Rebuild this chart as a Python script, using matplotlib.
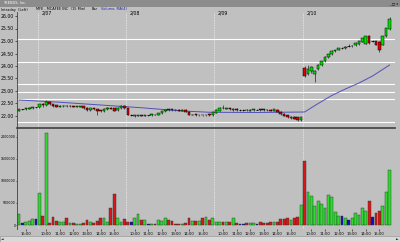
import matplotlib
matplotlib.use("Agg")
import matplotlib.pyplot as plt
from matplotlib.patches import Rectangle

# MFE - MCAFEE INC, 15 min bars: tail of the previous session + 4 sessions
dates = ["2/07", "2/08", "2/09", "2/10"]
day_starts = [6, 32, 58, 84]
hour_labels = ["10:00", "11:00", "12:00", "13:00", "14:00", "15:00"]

opens = [
    22.22, 22.26, 22.26, 22.28, 22.30, 22.34,
    22.34, 22.46, 22.42, 22.54, 22.46, 22.42, 22.36, 22.39, 22.41, 22.39,
    22.40, 22.38, 22.38, 22.38, 22.32, 22.24, 22.30, 22.26, 22.22, 22.18,
    22.26, 22.32, 22.30, 22.24, 22.30, 22.38,
    22.30, 22.04, 21.98, 22.00, 22.04, 22.00, 22.02, 22.02, 22.06, 22.04,
    22.10, 22.18, 22.26, 22.26, 22.25, 22.24, 22.22, 22.24, 22.16, 22.04,
    22.06, 22.02, 22.04, 22.02, 22.06, 22.02,
    22.12, 22.22, 22.32, 22.28, 22.30, 22.24, 22.28, 22.24, 22.24, 22.25,
    22.22, 22.23, 22.25, 22.27, 22.26, 22.25, 22.24, 22.22, 22.24, 22.16,
    22.08, 22.02, 21.92, 21.96, 21.94, 21.82,
    23.92, 23.68, 23.79, 23.66, 23.90, 24.05, 24.22, 24.36, 24.46, 24.60,
    24.64, 24.72, 24.72, 24.78, 24.78, 24.83, 24.88, 24.96, 24.90, 25.19,
    24.98, 24.99, 24.95, 24.86, 25.19, 25.48,
]
closes = [
    22.26, 22.26, 22.30, 22.32, 22.34, 22.34,
    22.46, 22.42, 22.56, 22.46, 22.40, 22.36, 22.40, 22.41, 22.39, 22.40,
    22.38, 22.39, 22.40, 22.30, 22.24, 22.30, 22.26, 22.20, 22.18, 22.28,
    22.32, 22.28, 22.22, 22.32, 22.40, 22.30,
    22.06, 22.04, 22.02, 22.04, 22.00, 22.04, 22.02, 22.06, 22.04, 22.10,
    22.18, 22.24, 22.24, 22.24, 22.23, 22.22, 22.24, 22.16, 22.06, 22.06,
    22.02, 22.04, 22.02, 22.04, 22.02, 22.14,
    22.24, 22.32, 22.30, 22.30, 22.26, 22.28, 22.24, 22.24, 22.24, 22.23,
    22.24, 22.26, 22.25, 22.24, 22.24, 22.23, 22.22, 22.26, 22.16, 22.08,
    22.00, 21.94, 21.96, 21.88, 21.82, 21.94,
    23.60, 23.88, 23.95, 23.78, 24.05, 24.19, 24.36, 24.48, 24.60, 24.64,
    24.72, 24.72, 24.76, 24.78, 24.81, 24.92, 24.99, 25.10, 25.19, 24.92,
    24.98, 24.85, 24.65, 25.19, 25.50, 25.86,
]
highs = [
    22.28, 22.28, 22.32, 22.34, 22.36, 22.36,
    22.48, 22.50, 22.62, 22.56, 22.48, 22.44, 22.42, 22.43, 22.42, 22.42,
    22.41, 22.41, 22.41, 22.40, 22.34, 22.32, 22.32, 22.28, 22.24, 22.30,
    22.34, 22.34, 22.32, 22.34, 22.42, 22.42,
    22.32, 22.08, 22.04, 22.06, 22.06, 22.06, 22.04, 22.08, 22.08, 22.12,
    22.20, 22.26, 22.28, 22.27, 22.27, 22.26, 22.26, 22.26, 22.18, 22.08,
    22.08, 22.06, 22.06, 22.06, 22.08, 22.16,
    22.26, 22.34, 22.44, 22.32, 22.32, 22.30, 22.30, 22.26, 22.26, 22.27,
    22.26, 22.28, 22.27, 22.29, 22.28, 22.27, 22.26, 22.28, 22.26, 22.18,
    22.10, 22.04, 21.98, 21.98, 21.96, 21.96,
    24.00, 24.04, 23.98, 23.84, 24.08, 24.22, 24.40, 24.50, 24.62, 24.66,
    24.74, 24.76, 24.80, 24.88, 24.83, 24.94, 25.02, 25.12, 25.22, 25.24,
    25.06, 25.02, 24.98, 25.22, 25.54, 25.94,
]
lows = [
    22.20, 22.24, 22.24, 22.26, 22.28, 22.32,
    22.32, 22.38, 22.40, 22.44, 22.38, 22.34, 22.34, 22.38, 22.37, 22.38,
    22.36, 22.37, 22.37, 22.28, 22.22, 22.22, 22.24, 22.06, 22.14, 22.16,
    22.24, 22.26, 22.20, 22.22, 22.28, 22.28,
    22.04, 21.98, 21.96, 21.98, 21.98, 21.98, 22.00, 22.00, 22.02, 22.02,
    22.08, 22.16, 22.22, 22.22, 22.21, 22.20, 22.20, 22.14, 22.04, 22.02,
    22.00, 22.00, 22.00, 22.00, 22.00, 22.00,
    22.10, 22.20, 22.28, 22.26, 22.24, 22.22, 22.22, 22.22, 22.22, 22.21,
    22.20, 22.21, 22.23, 22.22, 22.22, 22.21, 22.20, 22.20, 22.14, 22.06,
    21.98, 21.92, 21.90, 21.86, 21.78, 21.80,
    23.56, 23.64, 23.72, 23.36, 23.86, 24.02, 24.18, 24.34, 24.44, 24.58,
    24.62, 24.70, 24.70, 24.76, 24.76, 24.80, 24.86, 24.94, 24.88, 24.90,
    24.96, 24.82, 24.58, 24.84, 25.16, 25.44,
]
volumes = [
    250000, 45000, 70000, 100000, 140000, 140000,
    730000, 200000, 2090000, 45000, 180000, 90000, 70000, 70000, 160000, 40000,
    50000, 30000, 30000, 40000, 110000, 70000, 50000, 90000, 160000, 160000,
    70000, 380000, 700000, 160000, 70000, 140000,
    70000, 70000, 160000, 250000, 110000, 110000, 30000, 30000, 30000, 110000,
    100000, 160000, 110000, 100000, 30000, 30000, 30000, 50000, 160000, 90000,
    90000, 90000, 160000, 180000, 120000, 150000,
    70000, 70000, 70000, 70000, 70000, 160000, 40000, 30000, 30000, 40000,
    40000, 50000, 30000, 70000, 50000, 50000, 60000, 70000, 70000, 130000,
    140000, 160000, 110000, 160000, 180000, 450000,
    1450000, 750000, 660000, 430000, 545000, 480000, 390000, 680000, 640000, 300000,
    200000, 200000, 160000, 110000, 150000, 270000, 230000, 380000, 320000, 540000,
    180000, 270000, 320000, 430000, 750000, 1250000,
]

# moving average line, read at a few bars
ma_bars = [0, 12, 24, 36, 48, 56, 70, 84, 88, 92, 96, 100, 104, 109]
ma_values = [22.64, 22.55, 22.44, 22.33, 22.20, 22.15, 22.14, 22.16,
             22.50, 22.82, 23.08, 23.32, 23.60, 24.04]

# horizontal level lines drawn on the price pane
level_lines = [25.08, 24.16, 23.28, 22.96, 22.68, 21.76]

price_ticks = [22.0, 22.5, 23.0, 23.5, 24.0, 24.5, 25.0, 25.5, 26.0]
volume_ticks = [0, 500000, 1000000, 1500000, 2000000]

BG = "#c0c0c0"
UP = "#00e000"
DOWN = "#e00000"
FS = 3.3
HFS = 2.5


def px(x, y):
    # pixel position of the 400x242 screenshot -> figure fraction
    return x / 400, 1 - y / 242


fig = plt.figure(figsize=(4.0, 2.42), dpi=100, facecolor=BG)

# window title strip + chart header
fig.patches.append(Rectangle((0, 1 - 7 / 242), 1, 7 / 242, transform=fig.transFigure,
                             facecolor="#8c8c8c", edgecolor="none"))
fig.text(*px(3, 3.5), "TRENDS, Inc.", fontsize=HFS, color="white", va="center")
fig.text(*px(398, 3.5), "_ \u25a1 x", fontsize=HFS, color="black", va="center", ha="right")
fig.text(*px(1, 9.5), "Intraday  (Left)", fontsize=HFS, va="center")
fig.text(*px(36, 9.5), "MFE - MCAFEE INC  (15 Min)", fontsize=HFS, va="center")
fig.text(*px(92, 9.5), "Bar", fontsize=HFS, va="center")
fig.text(*px(101, 9.5), "Volume, MA(4)", fontsize=HFS, va="center", color="#2020c0")

# scroll bar at the bottom
fig.patches.append(Rectangle((0, 0), 1, 6 / 242, transform=fig.transFigure,
                             facecolor="#d8d8d8", edgecolor="#909090", linewidth=0.4))
fig.text(*px(1, 239), "\u25c4", fontsize=2.4, va="center")
fig.text(*px(399, 239), "\u25ba", fontsize=2.4, va="center", ha="right")

left, width = 17 / 400, 378 / 400
ax_p = fig.add_axes([left, 1 - 127 / 242, width, 115 / 242], facecolor=BG)
ax_v = fig.add_axes([left, 1 - 229 / 242, width, 101 / 242], facecolor=BG, sharex=ax_p)

n = len(closes)
xs = list(range(n))

for lvl in level_lines:
    ax_p.axhline(lvl, color="white", linewidth=0.8, zorder=1)

for s in day_starts:
    for ax in (ax_p, ax_v):
        ax.axvline(s - 0.5, color="#eeeeee", linewidth=0.6, linestyle=(0, (1, 1)), zorder=1)

for d, s in zip(dates, day_starts):
    ax_p.text(s + 0.5, 26.1, d, fontsize=FS, va="center", ha="left")

# candles
for i in xs:
    o, c, h, l = opens[i], closes[i], highs[i], lows[i]
    ax_p.vlines(i, l, h, color="black", linewidth=0.4, zorder=2)
    if c == o:
        ax_p.hlines(c, i - 0.4, i + 0.4, color="black", linewidth=0.6, zorder=3)
    else:
        ax_p.add_patch(Rectangle((i - 0.38, min(o, c)), 0.76, abs(c - o),
                                 facecolor=UP if c > o else DOWN, edgecolor="black",
                                 linewidth=0.35, zorder=3))

ax_p.plot(ma_bars, ma_values, color="#5050b8", linewidth=0.7, zorder=2)

ax_p.set_ylim(21.56, 26.16)
ax_p.set_xlim(-0.6, 110.6)
ax_p.set_yticks(price_ticks)
ax_p.set_yticklabels([f"{t:.2f}" for t in price_ticks])
ax_p.tick_params(axis="y", labelsize=FS, length=1.5, width=0.4, pad=0.6)
ax_p.tick_params(axis="x", bottom=False, labelbottom=False)

# volume bars
vol_colors = []
for o, c in zip(opens, closes):
    if c > o:
        vol_colors.append("#30d830")
    elif c < o:
        vol_colors.append("#d81818")
    else:
        vol_colors.append("#1010c0")
ax_v.bar(xs, volumes, width=0.85, color=vol_colors, edgecolor="#303030", linewidth=0.3, zorder=2)
ax_v.set_ylim(-90000, 2200000)
ax_v.set_yticks(volume_ticks)
ax_v.set_yticklabels([str(t) for t in volume_ticks])
ax_v.tick_params(axis="y", labelsize=2.3, length=0.8, width=0.4, pad=0.3)

tick_pos = [2]
tick_lab = ["15:00"]
for s in day_starts:
    for k, lab in enumerate(hour_labels):
        tick_pos.append(s + 2 + 4 * k)
        tick_lab.append(lab)
ax_v.set_xticks(tick_pos)
ax_v.set_xticklabels(tick_lab)
ax_v.tick_params(axis="x", labelsize=2.7, length=1.2, width=0.4, pad=0.8)

for ax in (ax_p, ax_v):
    for side in ("top", "right"):
        ax.spines[side].set_visible(False)
    ax.spines["left"].set_color("#404040")
    ax.spines["left"].set_linewidth(0.6)
ax_p.spines["bottom"].set_visible(False)
ax_v.spines["bottom"].set_visible(False)
ax_v.spines["top"].set_visible(True)
ax_v.spines["top"].set_color("#404040")
ax_v.spines["top"].set_linewidth(1.2)

fig.savefig("out.png", dpi=100, facecolor=BG)
